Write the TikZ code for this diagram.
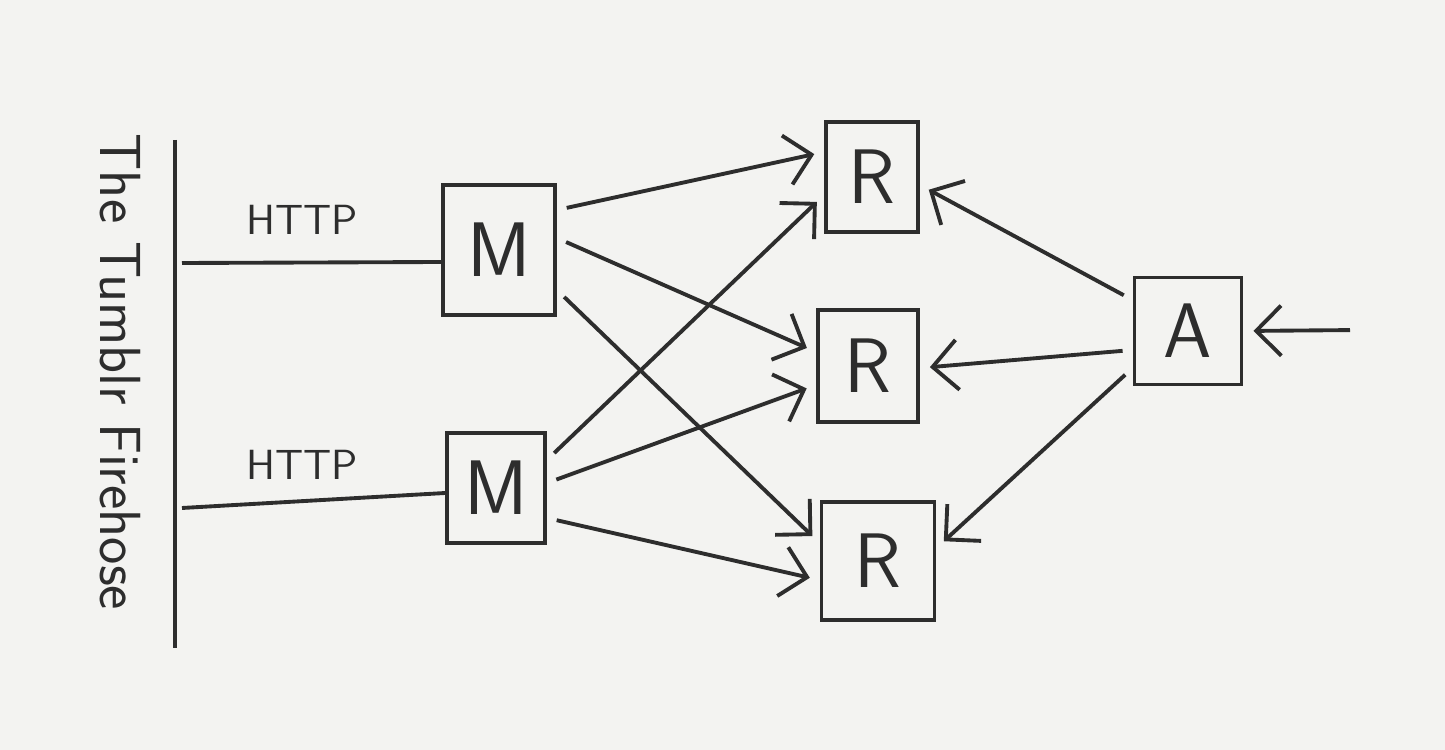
\documentclass[tikz,border=0pt]{standalone}
\usepackage{amsmath,amssymb}
\usepackage{tikz}
\usetikzlibrary{arrows.meta}
\usetikzlibrary{positioning}
\usepackage{xcolor}
\definecolor{ink}{RGB}{45,45,45}
\definecolor{paper}{RGB}{243,243,241}

\begin{document}
\begin{tikzpicture}[
  ink/.style={draw=ink, line width=1.1pt},
  box/.style={ink, minimum width=#1, inner sep=0pt, font=\fontsize{22}{26}\selectfont\sffamily, text=ink},
  flow/.style={ink, -{Straight Barb[length=2.5mm,width=5mm]}, shorten >=1mm, shorten <=1mm},
  lbl/.style={font=\sffamily\large, text=ink}
]
\fill[paper] (0,0) rectangle (14.45,7.5);
\useasboundingbox (0,0) rectangle (14.45,7.5);
% the firehose
\coordinate (fhtop) at (1.75,6.10);
\coordinate (fhbot) at (1.75,1.02);
\draw[ink] (fhtop)--(fhbot);
\node[rotate=-90, font=\fontsize{16.5}{20}\selectfont\sffamily, text=ink] (fh) at (1.20,3.78) {The Tumblr Firehose};
\coordinate (h1) at (1.82,4.87);
\coordinate (h2) at (1.82,2.42);
% boxes
\node[box=1.12cm, minimum height=1.30cm] (m1) at (4.99,5.00) {M};
\node[box=0.98cm, minimum height=1.10cm] (m2) at (4.96,2.62) {M};
\node[box=0.92cm, minimum height=1.10cm] (r1) at (8.72,5.73) {R};
\node[box=1.00cm, minimum height=1.12cm] (r2) at (8.68,3.84) {R};
\node[box=1.13cm, minimum height=1.18cm] (r3) at (8.78,1.89) {R};
\node[box=1.07cm, minimum height=1.07cm] (a) at (11.88,4.19) {A};
\coordinate (in) at (13.60,4.20);
% http links
\draw[ink] (h1)--([yshift=-1.2mm]m1.west);
\draw[ink] (h2)--([yshift=-0.5mm]m2.west);
\node[lbl] (t1) at (3.02,5.30) {HTTP};
\node[lbl] (t2) at (3.02,2.85) {HTTP};
% m -> r
\draw[flow] ([yshift=4mm]m1.east)--([yshift=2.5mm]r1.west);
\draw[flow] ([yshift=1.2mm]m1.east)--([yshift=1.4mm]r2.west);
\draw[flow] ([yshift=-4mm]m1.east)--([yshift=1.8mm]r3.west);
\draw[flow] ([yshift=2.8mm]m2.east)--([yshift=-1.8mm]r1.west);
\draw[flow] ([yshift=0.5mm]m2.east)--([yshift=-1.9mm]r2.west);
\draw[flow] ([yshift=-3mm]m2.east)--([yshift=-1.9mm]r3.west);
% a -> r
\draw[flow] ([yshift=3.1mm]a.west)--([yshift=-0.8mm]r1.east);
\draw[flow] ([yshift=-1.9mm]a.west)--([yshift=-0.2mm]r2.east);
\draw[flow] ([yshift=-3.7mm]a.west)--([yshift=1.3mm]r3.east);
\draw[flow] (in)--(a.east);
\end{tikzpicture}
\end{document}
